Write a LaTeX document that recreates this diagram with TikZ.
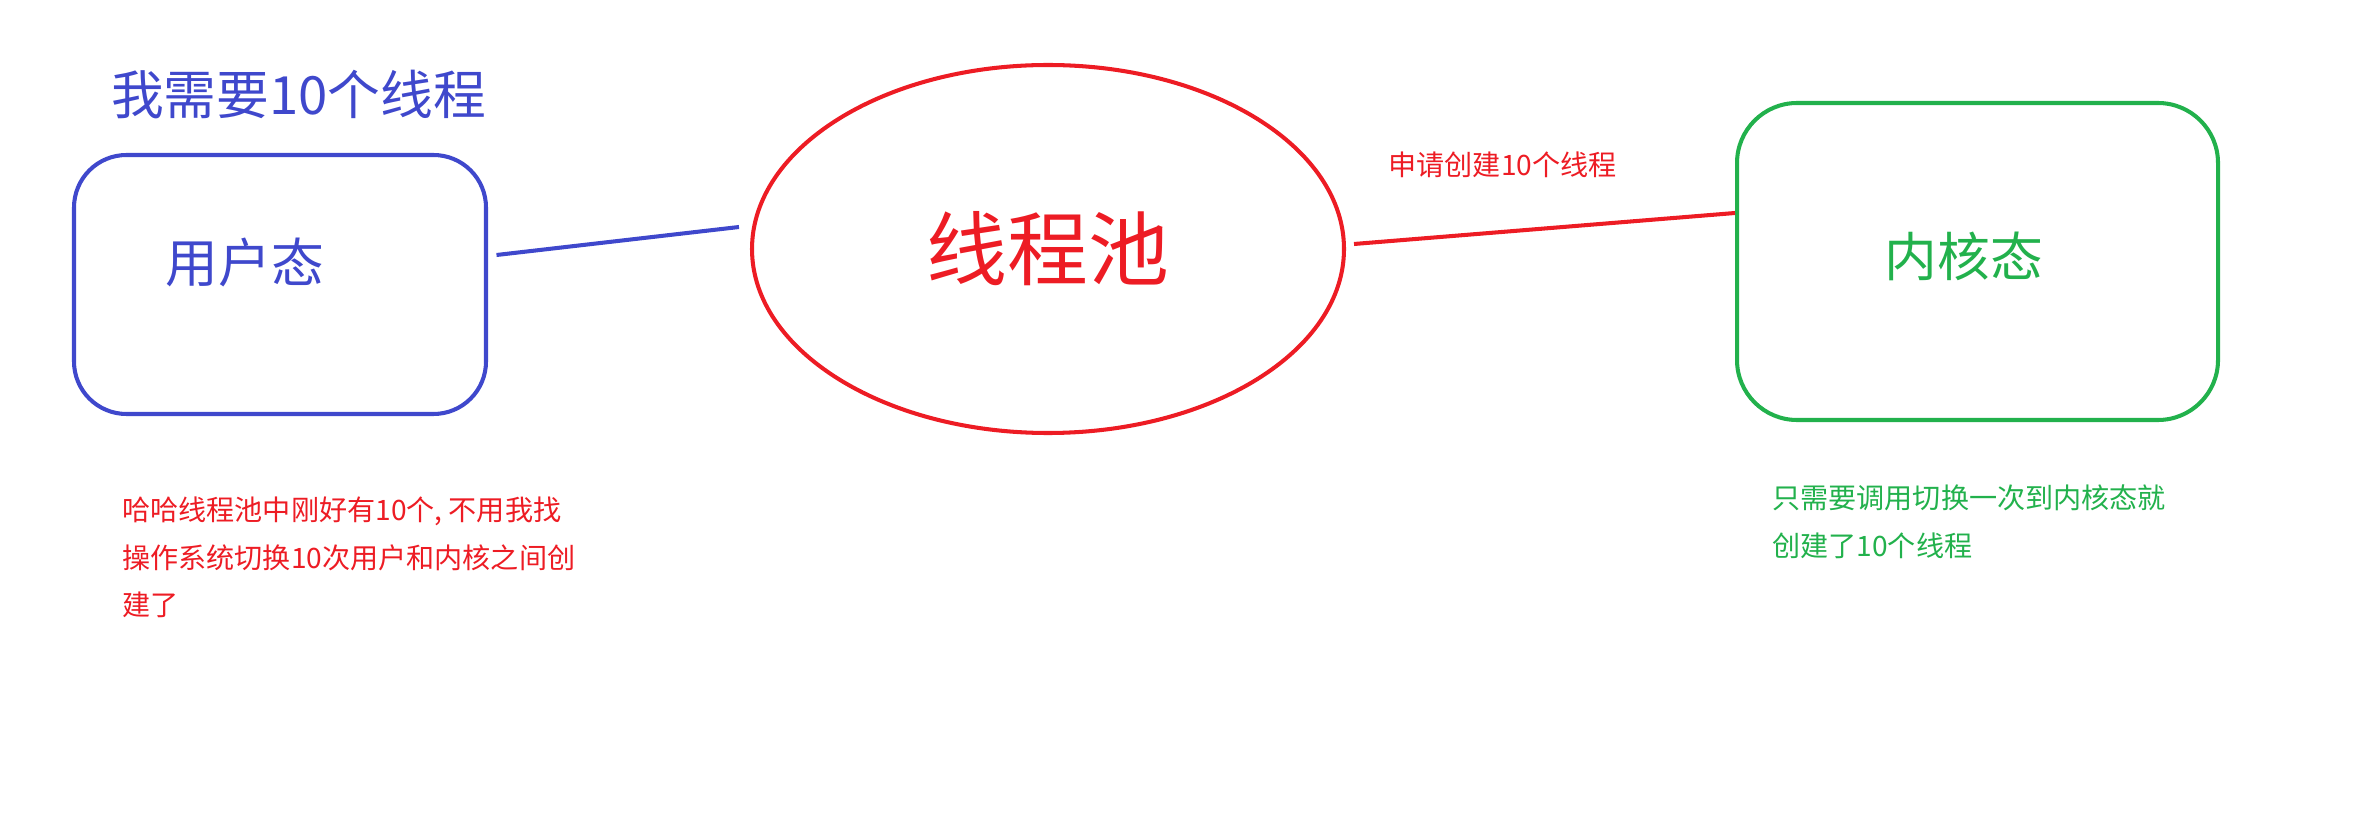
\documentclass[tikz,border=0pt]{standalone}
\usepackage{fontspec}
\setmainfont{Noto Sans CJK SC}
\usepackage{tikz}
\usetikzlibrary{shapes,calc}
\usepackage{xcolor}
\definecolor{paintblue}{RGB}{63,72,204}
\definecolor{paintred}{RGB}{237,28,36}
\definecolor{paintgreen}{RGB}{34,177,76}
\tikzset{
  state box/.style={draw,line width=2.3pt,rounded corners=1.05cm,inner sep=0pt},
  big text/.style={font=\fontsize{30}{36}\selectfont},
  small text/.style={font=\fontsize{16}{27.3}\selectfont,align=left,inner sep=0pt}
}
\begin{document}
\begin{tikzpicture}
    \useasboundingbox (0,0) rectangle (47.6,16.56);
    \node [big text,text=paintblue] (need) at (5.97,14.68) {我需要10个线程};
    \node [state box,paintblue,minimum width=8.24cm,minimum height=5.18cm] (user) at (5.6,10.87) {};
    \node [big text,text=paintblue] (usertext) at (4.9,11.32) {用户态};
    \node [draw,ellipse,line width=2.3pt,paintred,inner sep=0pt,minimum width=11.84cm,minimum height=7.36cm,font=\fontsize{46}{50}\selectfont] (pool) at (20.96,11.58) {线程池};
    \node [state box,paintgreen,rounded corners=1.2cm,minimum width=9.62cm,minimum height=6.34cm] (kernel) at (39.55,11.33) {};
    \node [big text,text=paintgreen] (kerneltext) at (39.28,11.44) {内核态};
   \draw [paintblue,line width=2.3pt] ([shift={(0.17,0.59)}]user.east) -- ([shift={(-0.22,0.44)}]pool.west);
   \draw [paintred,line width=2.3pt] ([shift={(0.16,0.1)}]pool.east) -- ([yshift=0.97cm]kernel.west) node [pos=0.39,yshift=1.34cm,text=paintred,font=\fontsize{16}{20}\selectfont] (apply) {申请创建10个线程};
    \node [small text,text=paintred,anchor=north west] (haha) at (2.44,6.64) {哈哈线程池中刚好有10个, 不用我找\\操作系统切换10次用户和内核之间创\\建了};
    \node [small text,text=paintgreen,anchor=north west] (once) at (35.44,6.88) {只需要调用切换一次到内核态就\\创建了10个线程};
\end{tikzpicture}
\end{document}
